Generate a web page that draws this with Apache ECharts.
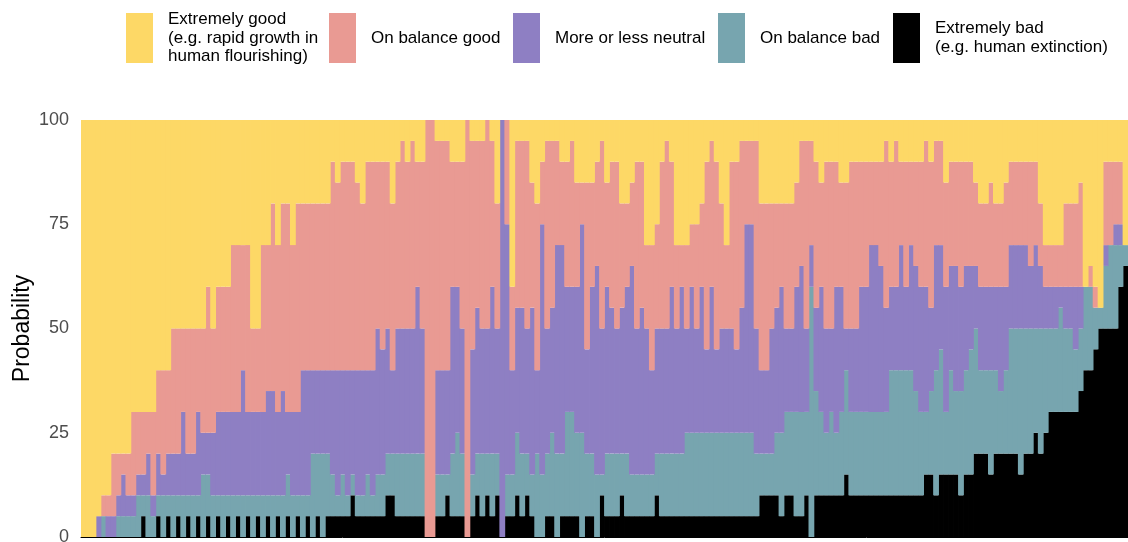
<!DOCTYPE html>
<html><head><meta charset="utf-8">
<script src="https://cdn.jsdelivr.net/npm/echarts@6/dist/echarts.min.js"></script>
<style>html,body{margin:0;padding:0;background:#fff;overflow:hidden}#c{width:1128px;height:542px}</style>
</head><body><div id="c"></div>
<script>
// Respondents (sorted as in the reference), each bar sums to 100
const extremelyBad = [
0,0,0,0,0,0,0,0,0,0,
0,0,5,0,0,5,0,5,0,5,
0,5,0,5,0,5,0,5,0,5,
0,5,0,5,0,5,0,5,0,5,
0,5,0,5,0,5,0,5,0,5,
5,5,5,5,10,5,5,5,5,5,
5,10,10,5,5,5,5,5,5,0,
0,5,5,10,5,5,5,0,5,10,
5,10,5,10,0,5,5,10,5,10,
5,0,0,5,5,0,5,5,5,5,
0,5,5,0,10,5,5,5,10,5,
5,5,5,5,5,10,5,5,5,5,
5,5,5,5,5,5,5,5,5,5,
5,5,5,5,5,5,10,10,10,10,
5,10,10,5,5,10,0,10,10,10,
10,10,10,15,10,10,10,10,10,10,
10,10,10,10,10,10,10,10,10,15,
15,10,15,15,15,15,10,15,15,20,
20,20,15,20,20,20,20,20,15,20,
20,25,20,25,30,30,30,30,30,30,
35,40,40,45,50,50,50,50,60,65];
const onBalanceBad = [
0,0,0,0,5,0,0,5,5,5,
5,10,5,10,5,5,10,5,10,5,
10,5,10,5,15,10,10,5,10,5,
10,5,10,5,10,5,10,5,10,5,
10,10,10,5,10,5,20,15,20,15,
10,5,10,5,5,5,5,10,5,10,
10,10,10,15,15,15,15,15,15,0,
0,10,10,5,15,20,15,0,10,10,
15,10,15,10,0,10,10,15,15,10,
10,20,15,15,20,20,15,25,25,20,
25,15,15,15,5,15,15,15,10,15,
10,10,10,10,10,10,15,15,15,15,
15,20,20,20,20,20,20,20,20,20,
20,20,20,20,20,15,10,10,10,15,
20,20,20,25,25,20,60,25,20,15,
20,15,20,25,20,20,20,20,20,20,
20,20,30,30,30,30,30,25,20,15,
20,30,30,15,25,20,25,25,30,30,
20,20,25,20,15,20,30,30,35,30,
30,25,30,25,20,20,25,20,20,15,
15,20,20,10,5,15,20,20,10,5];
const neutral = [
0,0,0,5,0,5,5,5,10,5,
5,5,5,10,5,10,5,10,10,10,
20,10,10,20,10,10,15,20,20,20,
20,20,30,20,20,20,20,25,25,20,
25,15,20,20,30,30,20,20,20,20,
25,30,25,30,25,30,30,25,30,35,
30,30,20,30,30,30,30,40,30,0,
0,25,25,25,40,35,30,0,30,35,
30,30,40,30,100,60,25,30,35,30,
40,20,60,30,30,50,50,30,30,35,
50,25,40,50,35,40,35,30,35,40,
50,35,40,35,25,30,30,30,40,30,
40,25,35,25,35,20,35,20,25,25,
25,20,30,50,50,30,20,20,30,30,
35,20,20,30,35,20,10,20,30,25,
20,35,30,10,20,20,30,30,40,40,
35,25,20,20,30,20,30,30,30,30,
20,30,25,30,25,30,25,25,20,15,
20,20,20,20,25,20,20,20,20,20,
15,20,15,10,10,10,5,10,10,15,
10,0,0,0,0,5,0,5,5,0];
const onBalanceGood = [
0,0,0,0,5,5,15,10,5,10,
20,15,15,10,20,20,25,20,30,30,
20,30,30,20,25,35,25,30,30,30,
40,40,30,40,20,20,40,35,45,40,
45,50,40,50,40,40,40,40,40,40,
50,45,50,50,50,45,40,50,50,40,
45,40,40,40,45,40,45,30,40,100,
100,55,55,55,30,30,40,100,50,40,
45,50,35,30,0,25,20,40,40,45,
30,40,15,45,40,25,20,30,35,25,
10,40,25,25,45,25,35,40,25,20,
20,40,35,20,30,25,40,45,30,20,
10,20,15,25,20,45,35,45,30,20,
40,45,40,20,20,45,40,40,30,25,
20,30,30,25,30,45,25,35,25,40,
40,30,25,35,40,40,30,30,20,20,
25,40,30,35,20,30,20,25,30,35,
35,25,25,25,25,25,30,25,25,20,
20,20,25,20,20,25,20,20,20,20,
25,20,15,10,10,10,10,20,20,20,
25,0,5,5,0,20,20,15,15,0];
const extremelyGood = [
100,100,100,95,90,90,80,80,80,80,
70,70,70,70,70,60,60,60,50,50,
50,50,50,50,50,40,50,40,40,40,
30,30,30,30,50,50,30,30,20,30,
20,20,30,20,20,20,20,20,20,20,
10,15,10,10,10,15,20,10,10,10,
10,10,20,10,5,10,5,10,10,0,
0,5,5,5,10,10,10,0,5,5,
5,0,5,20,0,0,40,5,5,5,
15,20,10,5,5,5,10,10,5,15,
15,15,15,10,5,15,10,10,20,20,
15,10,10,30,30,25,10,5,10,30,
30,30,25,25,20,10,5,10,20,30,
10,10,5,5,5,5,20,20,20,20,
20,20,20,15,5,5,5,10,15,10,
10,10,15,15,10,10,10,10,10,10,
10,5,10,5,10,10,10,10,10,5,
10,5,5,15,10,10,10,10,10,15,
20,20,15,20,20,15,10,10,10,10,
10,10,20,30,30,30,30,20,20,20,
15,40,35,40,45,10,10,10,10,30];
const respondents = extremelyBad.map((_, i) => String(i + 1));
const yTicks = [0, 25, 50, 75, 100];

const names = ['Extremely good','On balance good','More or less neutral','On balance bad','Extremely bad'];
const legendLabels = {
  'Extremely good': 'Extremely good\n(e.g. rapid growth in\nhuman flourishing)',
  'On balance good': 'On balance good',
  'More or less neutral': 'More or less neutral',
  'On balance bad': 'On balance bad',
  'Extremely bad': 'Extremely bad\n(e.g. human extinction)'
};
const colors = {
  'Extremely good': '#fdd866',
  'On balance good': '#e99a93',
  'More or less neutral': '#8e7fc3',
  'On balance bad': '#77a5af',
  'Extremely bad': '#000000'
};
const values = {
  'Extremely good': extremelyGood,
  'On balance good': onBalanceGood,
  'More or less neutral': neutral,
  'On balance bad': onBalanceBad,
  'Extremely bad': extremelyBad
};
const legendLeft = [126, 329, 513, 718, 893];
const legendTop = [10.25, 13, 13, 13, 13];
const font = 'Liberation Sans, Arial, Helvetica, sans-serif';

const chart = echarts.init(document.getElementById('c'), null, {renderer: 'canvas'});
const stackOrder = ['Extremely bad','On balance bad','More or less neutral','On balance good','Extremely good'];
chart.setOption({
  animation: false,
  backgroundColor: '#ffffff',
  textStyle: {fontFamily: font},
  legend: names.map((n, i) => ({
    data: [n], left: legendLeft[i], top: legendTop[i], padding: 0,
    itemWidth: 27, itemHeight: 50, icon: 'rect', selectedMode: false,
    formatter: name => legendLabels[name],
    textStyle: {fontFamily: font, fontSize: 17, lineHeight: 18.5, color: '#000', padding: [0, 0, 0, 10]}
  })),
  grid: {left: 81, right: 0, top: 120, bottom: 5, containLabel: false, outerBoundsMode: 'none'},
  xAxis: {
    type: 'category', data: respondents,
    axisLabel: {show: false}, axisTick: {show: false},
    axisLine: {show: true, lineStyle: {color: '#000', width: 1}},
    splitLine: {show: false}
  },
  yAxis: {
    type: 'value', min: yTicks[0], max: yTicks[yTicks.length - 1], interval: 25,
    name: 'Probability', nameLocation: 'middle', nameGap: 47, nameRotate: 90,
    nameMoveOverlap: false,
    nameTextStyle: {fontFamily: font, fontSize: 23, color: '#000'},
    axisLabel: {fontFamily: font, fontSize: 18, color: '#4d4d4d', margin: 12},
    axisLine: {show: false}, axisTick: {show: false},
    splitLine: {show: true, lineStyle: {color: '#ebebeb', width: 1}}
  },
  series: stackOrder.map(n => ({
    name: n, type: 'bar', stack: 'all', data: values[n],
    barWidth: 5.8,
    itemStyle: {color: colors[n], borderWidth: 0},
    emphasis: {disabled: true}, silent: true
  }))
});
</script></body></html>
